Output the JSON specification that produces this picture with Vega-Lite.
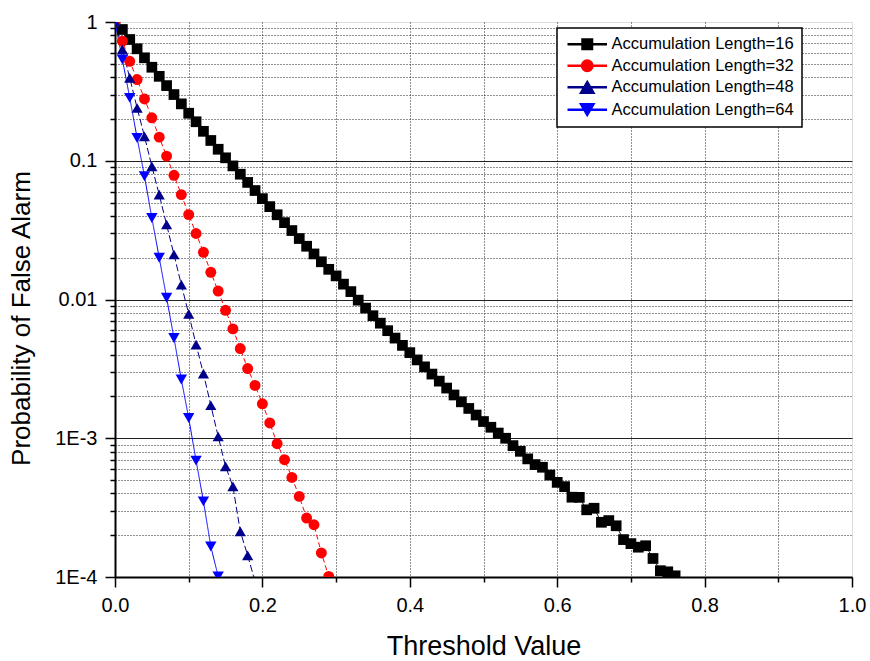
{
  "$schema": "https://vega.github.io/schema/vega-lite/v6.json",
  "width": 737,
  "height": 555,
  "autosize": {"type": "none"},
  "padding": {"left": 115, "top": 22, "right": 18, "bottom": 84},
  "background": "white",
  "datasets": {
    "pfa": [
      {"s": "Accumulation Length=16", "x": 0.00, "p": 1},
      {"s": "Accumulation Length=16", "x": 0.01, "p": 0.883},
      {"s": "Accumulation Length=16", "x": 0.02, "p": 0.748},
      {"s": "Accumulation Length=16", "x": 0.03, "p": 0.641},
      {"s": "Accumulation Length=16", "x": 0.04, "p": 0.552},
      {"s": "Accumulation Length=16", "x": 0.05, "p": 0.472},
      {"s": "Accumulation Length=16", "x": 0.06, "p": 0.406},
      {"s": "Accumulation Length=16", "x": 0.07, "p": 0.348},
      {"s": "Accumulation Length=16", "x": 0.08, "p": 0.300},
      {"s": "Accumulation Length=16", "x": 0.09, "p": 0.257},
      {"s": "Accumulation Length=16", "x": 0.10, "p": 0.220},
      {"s": "Accumulation Length=16", "x": 0.11, "p": 0.191},
      {"s": "Accumulation Length=16", "x": 0.12, "p": 0.163},
      {"s": "Accumulation Length=16", "x": 0.13, "p": 0.140},
      {"s": "Accumulation Length=16", "x": 0.14, "p": 0.121},
      {"s": "Accumulation Length=16", "x": 0.15, "p": 0.105},
      {"s": "Accumulation Length=16", "x": 0.16, "p": 0.0918},
      {"s": "Accumulation Length=16", "x": 0.17, "p": 0.0800},
      {"s": "Accumulation Length=16", "x": 0.18, "p": 0.0698},
      {"s": "Accumulation Length=16", "x": 0.19, "p": 0.0610},
      {"s": "Accumulation Length=16", "x": 0.20, "p": 0.0533},
      {"s": "Accumulation Length=16", "x": 0.21, "p": 0.0467},
      {"s": "Accumulation Length=16", "x": 0.22, "p": 0.0408},
      {"s": "Accumulation Length=16", "x": 0.23, "p": 0.0358},
      {"s": "Accumulation Length=16", "x": 0.24, "p": 0.0314},
      {"s": "Accumulation Length=16", "x": 0.25, "p": 0.0275},
      {"s": "Accumulation Length=16", "x": 0.26, "p": 0.0242},
      {"s": "Accumulation Length=16", "x": 0.27, "p": 0.0213},
      {"s": "Accumulation Length=16", "x": 0.28, "p": 0.0187},
      {"s": "Accumulation Length=16", "x": 0.29, "p": 0.0165},
      {"s": "Accumulation Length=16", "x": 0.30, "p": 0.0148},
      {"s": "Accumulation Length=16", "x": 0.31, "p": 0.0129},
      {"s": "Accumulation Length=16", "x": 0.32, "p": 0.0114},
      {"s": "Accumulation Length=16", "x": 0.33, "p": 0.00989},
      {"s": "Accumulation Length=16", "x": 0.34, "p": 0.00867},
      {"s": "Accumulation Length=16", "x": 0.35, "p": 0.00764},
      {"s": "Accumulation Length=16", "x": 0.36, "p": 0.00675},
      {"s": "Accumulation Length=16", "x": 0.37, "p": 0.00596},
      {"s": "Accumulation Length=16", "x": 0.38, "p": 0.00527},
      {"s": "Accumulation Length=16", "x": 0.39, "p": 0.00467},
      {"s": "Accumulation Length=16", "x": 0.40, "p": 0.00414},
      {"s": "Accumulation Length=16", "x": 0.41, "p": 0.00367},
      {"s": "Accumulation Length=16", "x": 0.42, "p": 0.00327},
      {"s": "Accumulation Length=16", "x": 0.43, "p": 0.00290},
      {"s": "Accumulation Length=16", "x": 0.44, "p": 0.00258},
      {"s": "Accumulation Length=16", "x": 0.45, "p": 0.00230},
      {"s": "Accumulation Length=16", "x": 0.46, "p": 0.00205},
      {"s": "Accumulation Length=16", "x": 0.47, "p": 0.00183},
      {"s": "Accumulation Length=16", "x": 0.48, "p": 0.00164},
      {"s": "Accumulation Length=16", "x": 0.49, "p": 0.00147},
      {"s": "Accumulation Length=16", "x": 0.50, "p": 0.00132},
      {"s": "Accumulation Length=16", "x": 0.51, "p": 0.00120},
      {"s": "Accumulation Length=16", "x": 0.52, "p": 0.00109},
      {"s": "Accumulation Length=16", "x": 0.53, "p": 0.00100},
      {"s": "Accumulation Length=16", "x": 0.54, "p": 0.000885},
      {"s": "Accumulation Length=16", "x": 0.55, "p": 0.000805},
      {"s": "Accumulation Length=16", "x": 0.56, "p": 0.000710},
      {"s": "Accumulation Length=16", "x": 0.57, "p": 0.000646},
      {"s": "Accumulation Length=16", "x": 0.58, "p": 0.000618},
      {"s": "Accumulation Length=16", "x": 0.59, "p": 0.000543},
      {"s": "Accumulation Length=16", "x": 0.60, "p": 0.000481},
      {"s": "Accumulation Length=16", "x": 0.61, "p": 0.000448},
      {"s": "Accumulation Length=16", "x": 0.62, "p": 0.000376},
      {"s": "Accumulation Length=16", "x": 0.63, "p": 0.000375},
      {"s": "Accumulation Length=16", "x": 0.64, "p": 0.000305},
      {"s": "Accumulation Length=16", "x": 0.65, "p": 0.000313},
      {"s": "Accumulation Length=16", "x": 0.66, "p": 0.000248},
      {"s": "Accumulation Length=16", "x": 0.67, "p": 0.000255},
      {"s": "Accumulation Length=16", "x": 0.68, "p": 0.000234},
      {"s": "Accumulation Length=16", "x": 0.69, "p": 0.000186},
      {"s": "Accumulation Length=16", "x": 0.70, "p": 0.000174},
      {"s": "Accumulation Length=16", "x": 0.71, "p": 0.000164},
      {"s": "Accumulation Length=16", "x": 0.72, "p": 0.000168},
      {"s": "Accumulation Length=16", "x": 0.73, "p": 0.000136},
      {"s": "Accumulation Length=16", "x": 0.74, "p": 0.000111},
      {"s": "Accumulation Length=16", "x": 0.75, "p": 0.000109},
      {"s": "Accumulation Length=16", "x": 0.76, "p": 0.000102},
      {"s": "Accumulation Length=32", "x": 0.00, "p": 1},
      {"s": "Accumulation Length=32", "x": 0.01, "p": 0.728},
      {"s": "Accumulation Length=32", "x": 0.02, "p": 0.521},
      {"s": "Accumulation Length=32", "x": 0.03, "p": 0.385},
      {"s": "Accumulation Length=32", "x": 0.04, "p": 0.279},
      {"s": "Accumulation Length=32", "x": 0.05, "p": 0.204},
      {"s": "Accumulation Length=32", "x": 0.06, "p": 0.148},
      {"s": "Accumulation Length=32", "x": 0.07, "p": 0.108},
      {"s": "Accumulation Length=32", "x": 0.08, "p": 0.0785},
      {"s": "Accumulation Length=32", "x": 0.09, "p": 0.0570},
      {"s": "Accumulation Length=32", "x": 0.10, "p": 0.0409},
      {"s": "Accumulation Length=32", "x": 0.11, "p": 0.0299},
      {"s": "Accumulation Length=32", "x": 0.12, "p": 0.0219},
      {"s": "Accumulation Length=32", "x": 0.13, "p": 0.0157},
      {"s": "Accumulation Length=32", "x": 0.14, "p": 0.0115},
      {"s": "Accumulation Length=32", "x": 0.15, "p": 0.00836},
      {"s": "Accumulation Length=32", "x": 0.16, "p": 0.00614},
      {"s": "Accumulation Length=32", "x": 0.17, "p": 0.00443},
      {"s": "Accumulation Length=32", "x": 0.18, "p": 0.00318},
      {"s": "Accumulation Length=32", "x": 0.19, "p": 0.00240},
      {"s": "Accumulation Length=32", "x": 0.20, "p": 0.00177},
      {"s": "Accumulation Length=32", "x": 0.21, "p": 0.00129},
      {"s": "Accumulation Length=32", "x": 0.22, "p": 0.000914},
      {"s": "Accumulation Length=32", "x": 0.23, "p": 0.000701},
      {"s": "Accumulation Length=32", "x": 0.24, "p": 0.000522},
      {"s": "Accumulation Length=32", "x": 0.25, "p": 0.000381},
      {"s": "Accumulation Length=32", "x": 0.26, "p": 0.000266},
      {"s": "Accumulation Length=32", "x": 0.27, "p": 0.000238},
      {"s": "Accumulation Length=32", "x": 0.28, "p": 0.000149},
      {"s": "Accumulation Length=32", "x": 0.29, "p": 0.000101},
      {"s": "Accumulation Length=48", "x": 0.00, "p": 1},
      {"s": "Accumulation Length=48", "x": 0.01, "p": 0.634},
      {"s": "Accumulation Length=48", "x": 0.02, "p": 0.396},
      {"s": "Accumulation Length=48", "x": 0.03, "p": 0.240},
      {"s": "Accumulation Length=48", "x": 0.04, "p": 0.150},
      {"s": "Accumulation Length=48", "x": 0.05, "p": 0.0912},
      {"s": "Accumulation Length=48", "x": 0.06, "p": 0.0570},
      {"s": "Accumulation Length=48", "x": 0.07, "p": 0.0347},
      {"s": "Accumulation Length=48", "x": 0.08, "p": 0.0211},
      {"s": "Accumulation Length=48", "x": 0.09, "p": 0.0128},
      {"s": "Accumulation Length=48", "x": 0.10, "p": 0.00787},
      {"s": "Accumulation Length=48", "x": 0.11, "p": 0.00473},
      {"s": "Accumulation Length=48", "x": 0.12, "p": 0.00292},
      {"s": "Accumulation Length=48", "x": 0.13, "p": 0.00173},
      {"s": "Accumulation Length=48", "x": 0.14, "p": 0.00103},
      {"s": "Accumulation Length=48", "x": 0.15, "p": 0.000627},
      {"s": "Accumulation Length=48", "x": 0.16, "p": 0.000450},
      {"s": "Accumulation Length=48", "x": 0.17, "p": 0.000213},
      {"s": "Accumulation Length=48", "x": 0.18, "p": 0.000143},
      {"s": "Accumulation Length=48", "x": 0.19, "p": 0.000093},
      {"s": "Accumulation Length=64", "x": 0.00, "p": 1},
      {"s": "Accumulation Length=64", "x": 0.01, "p": 0.537},
      {"s": "Accumulation Length=64", "x": 0.02, "p": 0.284},
      {"s": "Accumulation Length=64", "x": 0.03, "p": 0.146},
      {"s": "Accumulation Length=64", "x": 0.04, "p": 0.0773},
      {"s": "Accumulation Length=64", "x": 0.05, "p": 0.0387},
      {"s": "Accumulation Length=64", "x": 0.06, "p": 0.0200},
      {"s": "Accumulation Length=64", "x": 0.07, "p": 0.0103},
      {"s": "Accumulation Length=64", "x": 0.08, "p": 0.00528},
      {"s": "Accumulation Length=64", "x": 0.09, "p": 0.00265},
      {"s": "Accumulation Length=64", "x": 0.10, "p": 0.00140},
      {"s": "Accumulation Length=64", "x": 0.11, "p": 0.000690},
      {"s": "Accumulation Length=64", "x": 0.12, "p": 0.000351},
      {"s": "Accumulation Length=64", "x": 0.13, "p": 0.000166},
      {"s": "Accumulation Length=64", "x": 0.14, "p": 0.000101}
    ]
  },
  "data": {"name": "pfa"},
  "encoding": {
    "x": {
      "field": "x",
      "type": "quantitative",
      "scale": {"domain": [0, 1], "nice": false, "zero": false},
      "axis": {
        "title": "Threshold Value",
        "values": [0, 0.1, 0.2, 0.3, 0.4, 0.5, 0.6, 0.7, 0.8, 0.9, 1],
        "labelExpr": "indexof([0, 0.2, 0.4, 0.6, 0.8, 1], datum.value) >= 0 ? format(datum.value, '.1f') : ''",
        "labelOverlap": false,
        "labelFlush": false,
        "labelBound": false,
        "labelFont": "Liberation Sans",
        "labelFontSize": 20,
        "labelColor": "black",
        "labelPadding": 8,
        "tickColor": "black",
        "tickWidth": 1.5,
        "tickSize": {"condition": {"test": "indexof([0, 0.2, 0.4, 0.6, 0.8, 1], datum.value) >= 0", "value": 10}, "value": 5},
        "grid": true,
        "gridColor": {"condition": {"test": "datum.value == 0 || datum.value == 1", "value": "transparent"}, "value": "#222222"},
        "gridDash": [1, 2],
        "gridWidth": 1,
        "domainColor": "black",
        "domainWidth": 2,
        "titleFont": "Liberation Sans",
        "titleFontSize": 27,
        "titleFontWeight": "normal",
        "titleColor": "black",
        "titlePadding": 18
      }
    },
    "y": {
      "field": "p",
      "type": "quantitative",
      "scale": {"type": "log", "domain": [0.0001, 1], "nice": false},
      "axis": {
        "title": "Probability of False Alarm",
        "values": [0.0001, 0.0002, 0.0003, 0.0004, 0.0005, 0.0006, 0.0007, 0.0008, 0.0009, 0.001, 0.002, 0.003, 0.004, 0.005, 0.006, 0.007, 0.008, 0.009, 0.01, 0.02, 0.03, 0.04, 0.05, 0.06, 0.07, 0.08, 0.09, 0.1, 0.2, 0.3, 0.4, 0.5, 0.6, 0.7, 0.8, 0.9, 1],
        "labelExpr": "datum.value == 1 ? '1' : datum.value == 0.1 ? '0.1' : datum.value == 0.01 ? '0.01' : datum.value == 0.001 ? '1E-3' : datum.value == 0.0001 ? '1E-4' : ''",
        "labelOverlap": false,
        "labelFlush": false,
        "labelBound": false,
        "labelFont": "Liberation Sans",
        "labelFontSize": 20,
        "labelColor": "black",
        "labelPadding": 8,
        "tickColor": "black",
        "tickWidth": 1.5,
        "tickSize": {"condition": {"test": "indexof([1, 0.1, 0.01, 0.001, 0.0001], datum.value) >= 0", "value": 10}, "value": 5},
        "grid": true,
        "gridColor": {"condition": {"test": "datum.value == 1", "value": "transparent"}, "value": "#222222"},
        "gridDash": {"condition": {"test": "indexof([1, 0.1, 0.01, 0.001, 0.0001], datum.value) >= 0", "value": []}, "value": [1, 2]},
        "gridWidth": 1,
        "domainColor": "black",
        "domainWidth": 2,
        "titleFont": "Liberation Sans",
        "titleFontSize": 26,
        "titleFontWeight": "normal",
        "titleColor": "black",
        "titlePadding": 20,
        "titleY": 296
      }
    },
    "color": {
      "field": "s",
      "type": "nominal",
      "scale": {
        "domain": ["Accumulation Length=16", "Accumulation Length=32", "Accumulation Length=48", "Accumulation Length=64"],
        "range": ["#000000", "#ff0000", "#00008b", "#0000ff"]
      },
      "legend": {
        "title": null,
        "orient": "none",
        "legendX": 442,
        "legendY": 6,
        "padding": 8,
        "strokeColor": "black",
        "fillColor": "white",
        "labelFont": "Liberation Sans",
        "labelFontSize": 16.5,
        "labelColor": "black",
        "labelLimit": 0,
        "symbolSize": 100,
        "symbolOffset": 14,
        "labelOffset": 16,
        "rowPadding": 3.5,
        "encode": {
          "legend": {"update": {"strokeWidth": {"value": 1.5}}},
          "symbols": {
            "update": {
              "shape": {"signal": "datum.value == 'Accumulation Length=16' ? 'M-3.8,-0.1H3.8V0.1H-3.8ZM-1.05,-1.05H1.05V1.05H-1.05Z' : datum.value == 'Accumulation Length=32' ? 'M-3.8,-0.1H3.8V0.1H-3.8ZM-1.15,0A1.15,1.15,0,1,1,1.15,0A1.15,1.15,0,1,1,-1.15,0Z' : datum.value == 'Accumulation Length=48' ? 'M-3.8,-0.1H3.8V0.1H-3.8ZM0,-1.2L1.4,1.2L-1.4,1.2Z' : 'M-3.8,-0.1H3.8V0.1H-3.8ZM0,1.2L-1.4,-1.2L1.4,-1.2Z'"},
              "stroke": {"value": "transparent"},
              "opacity": {"value": 1}
            }
          }
        }
      }
    }
  },
  "layer": [
    {
      "mark": {"type": "line", "strokeWidth": 1, "clip": true},
      "encoding": {
        "strokeDash": {
          "field": "s",
          "type": "nominal",
          "scale": {"range": [[1, 0], [5, 3], [7, 3], [1, 0]]},
          "legend": null
        }
      }
    },
    {
      "mark": {"type": "point", "filled": true, "opacity": 1, "clip": true},
      "encoding": {
        "shape": {
          "field": "s",
          "type": "nominal",
          "scale": {"range": ["square", "circle", "triangle-up", "triangle-down"]},
          "legend": null
        },
        "size": {
          "field": "s",
          "type": "nominal",
          "scale": {"range": [115, 130, 200, 200]},
          "legend": null
        }
      }
    }
  ]
}
